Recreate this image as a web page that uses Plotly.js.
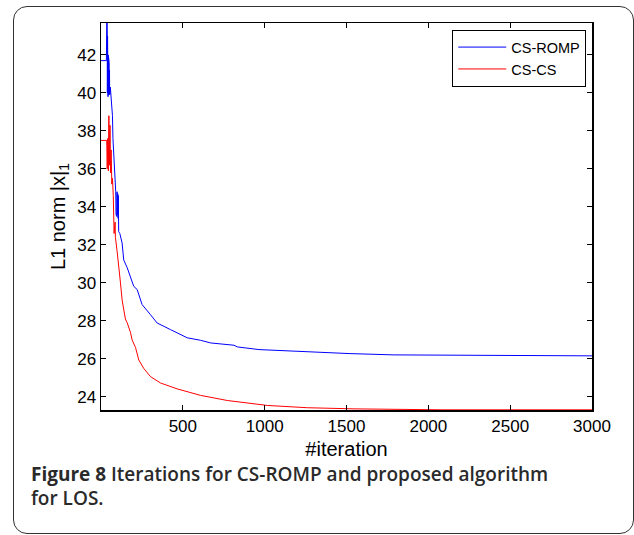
<!DOCTYPE html>
<html>
<head>
<meta charset="utf-8">
<script src="https://cdn.plot.ly/plotly-3.0.1.min.js"></script>
<style>
html,body{margin:0;padding:0;background:#fff;}
#wrap{position:relative;width:634px;height:535px;overflow:hidden;}
#chart{position:absolute;left:0;top:0;width:634px;height:535px;}
#frame{position:absolute;left:13px;top:6px;width:619px;height:526px;border:1.5px solid #333;border-radius:14px;pointer-events:none;}
</style>
</head>
<body>
<div id="wrap"><div id="chart"></div><div id="frame"></div></div>
<script>
// Data
const seriesNames = ["CS-ROMP", "CS-CS"];

const romp_iter = [0,33,36,38,39,40,41,42,43,44,45,46,47,48,49,50,51,52,53,54,55,57,60,65,70,73,76,80,82,86,90,92,94,96,98,100,102,104,106,108,115,129,139,160,180,200,221,251,302,343,425,527,608,670,812,833,965,1016,1200,1322,1516,1791,2100,2460,2470,3000];
const romp_l1 = [41.7,41.7,44.6,43.4,40.0,43.0,39.9,42.4,39.8,42.0,39.9,41.9,40.0,41.8,39.9,41.6,40.0,41.2,39.9,40.8,40.0,40.3,39.9,39.7,38.8,37.6,37.1,36.9,36.4,35.3,34.8,33.6,34.8,33.5,34.8,33.6,34.7,33.4,34.6,32.7,32.6,32.1,31.2,30.8,30.35,29.82,29.65,28.86,28.33,27.89,27.54,27.11,26.98,26.84,26.72,26.63,26.49,26.47,26.40,26.35,26.28,26.21,26.20,26.20,26.17,26.16];

const cscs_iter = [0,35,38,41,45,48,52,55,58,62,66,70,75,80,86,88,98,108,119,129,149,160,180,190,211,231,261,302,364,466,608,772,955,1016,1261,1546,2077,3000];
const cscs_l1 = [37.5,37.5,36.0,37.6,35.9,38.8,36.2,38.3,35.8,37.0,35.2,35.5,34.6,32.6,33.2,32.4,31.7,30.7,30.0,29.1,28.1,27.9,27.4,27.0,26.6,25.94,25.5,25.07,24.73,24.42,24.08,23.81,23.59,23.55,23.43,23.37,23.32,23.32];

const xTicks = [500,1000,1500,2000,2500,3000];
const yTicks = [24,26,28,30,32,34,36,38,40,42];

const traces = [
  {x: romp_iter, y: romp_l1, name: seriesNames[0], type: "scatter", mode: "lines",
   line: {color: "#0000ff", width: 1}},
  {x: cscs_iter, y: cscs_l1, name: seriesNames[1], type: "scatter", mode: "lines",
   line: {color: "#ff0000", width: 1}}
];

const axisFont = {family: "Liberation Sans, Arial, sans-serif", size: 17, color: "#000"};

const layout = {
  width: 634, height: 535,
  margin: {l: 101, r: 42, t: 23, b: 125},
  paper_bgcolor: "#fff", plot_bgcolor: "#fff",
  showlegend: true,
  legend: {x: 0.715, y: 0.982, xanchor: "left", yanchor: "top",
           bordercolor: "#000", borderwidth: 1.2, bgcolor: "#fff",
           itemwidth: 48, tracegroupgap: 0,
           font: {family: "Liberation Sans, Arial, sans-serif", size: 14.5, color: "#000"}},
  xaxis: {range: [0, 3000], tickvals: xTicks, ticktext: xTicks.map(String),
          ticks: "inside", ticklen: 5, tickwidth: 1, tickcolor: "#000",
          showline: true, linecolor: "#000", linewidth: 1.5, mirror: "ticks",
          showgrid: false, zeroline: false, tickfont: axisFont,
          title: {text: "#iteration", font: {family: "Liberation Sans, Arial, sans-serif", size: 20, color: "#000"}, standoff: 7}},
  yaxis: {range: [23.31, 43.68], tickvals: yTicks, ticktext: yTicks.map(String),
          ticks: "inside", ticklen: 5, tickwidth: 1, tickcolor: "#000",
          showline: true, linecolor: "#000", linewidth: 1.5, mirror: "ticks",
          showgrid: false, zeroline: false, tickfont: axisFont,
          title: {text: "L1 norm |x|<sub>1</sub>", font: {family: "Liberation Sans, Arial, sans-serif", size: 20, color: "#000"}, standoff: 6}},
  annotations: [
    {xref: "paper", yref: "paper", x: -0.1466, y: -0.166, xanchor: "left", yanchor: "middle",
     showarrow: false, align: "left",
     text: "<b>Figure 8</b> Iterations for CS-ROMP and proposed algorithm",
     font: {family: "Open Sans, Noto Sans, sans-serif", size: 19, weight: 600, color: "#2a2a2a"}},
    {xref: "paper", yref: "paper", x: -0.1466, y: -0.2286, xanchor: "left", yanchor: "middle",
     showarrow: false, align: "left",
     text: "for LOS.",
     font: {family: "Open Sans, Noto Sans, sans-serif", size: 19, weight: 600, color: "#2a2a2a"}}
  ]
};

Plotly.newPlot("chart", traces, layout, {displayModeBar: false, staticPlot: true});
</script>
</body>
</html>
